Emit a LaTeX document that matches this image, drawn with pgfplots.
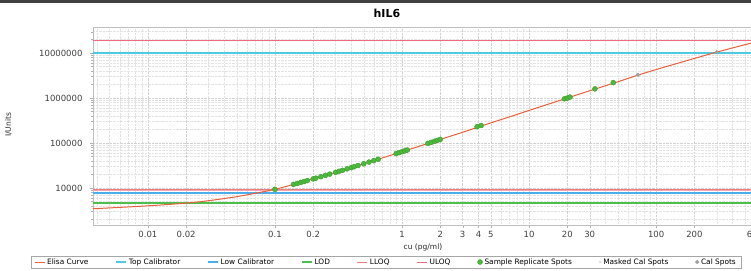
\documentclass[border=0pt]{standalone}
\usepackage{fontspec}
\setmainfont{DejaVu Sans}
\usepackage{pgfplots}
\pgfplotsset{compat=1.18}
\definecolor{curvec}{HTML}{E8603C}
\definecolor{topcal}{HTML}{4ECBE2}
\definecolor{lowcal}{HTML}{4AAEEA}
\definecolor{lodc}{HTML}{4CC04C}
\definecolor{lloqc}{HTML}{E85A5A}
\definecolor{uloqc}{HTML}{EE6A80}
\definecolor{dotc}{HTML}{4CB83C}
\pgfplotsset{
  linelegend/.style={legend image code/.code={\draw[##1] (0pt,0pt) -- (10pt,0pt);}},
  dotlegend/.style={legend image code/.code={\draw[##1] plot coordinates {(4pt,0pt)};}},
}
\begin{document}
\begin{tikzpicture}[x=1pt,y=1pt]
\path[use as bounding box] (0,0) rectangle (751,270);
\fill[black!75] (0,267) rectangle (751,270);
\begin{axis}[
  at={(93pt,45pt)}, anchor=south west,
  scale only axis, width=662pt, height=198pt,
  xmode=log, ymode=log,
  xmin=0.0037, xmax=600, ymin=1500, ymax=3.8e7,
  xtick={0.01,0.02,0.1,0.2,1,2,3,4,5,10,20,30,100,200,600},
  xticklabels={0.01,0.02,0.1,0.2,1,2,3,4,5,10,20,30,100,200,600},
  minor xtick={0.004,0.005,0.006,0.007,0.008,0.009,0.03,0.04,0.05,0.06,0.07,0.08,0.09,0.3,0.4,0.5,0.6,0.7,0.8,0.9,6,7,8,9,40,50,60,70,80,90,300,400,500},
  ytick={10000,100000,1000000,10000000},
  yticklabels={10000,100000,1000000,10000000},
  minor ytick={2000,3000,4000,5000,6000,7000,8000,9000,20000,30000,40000,50000,60000,70000,80000,90000,200000,300000,400000,500000,600000,700000,800000,900000,2000000,3000000,4000000,5000000,6000000,7000000,8000000,9000000,20000000,30000000},
  grid=both,
  major grid style={gray!35, densely dotted, line width=0.35pt},
  minor grid style={gray!22, densely dotted, line width=0.3pt},
  axis line style={gray!50, line width=0.4pt},
  tick style={gray!60},
  major tick length=3pt, minor tick length=1.5pt,
  tick align=outside,
  xtick pos=bottom, ytick pos=left,
  ticklabel style={font=\fontsize{8.5}{9}\selectfont, text=black!75},
  yticklabel style={xshift=-4pt},
  xlabel={cu (pg/ml)},
  xlabel style={at={(axis description cs:0.4985,-0.111)}, anchor=center, font=\fontsize{7.5}{8}\selectfont, text=black!85},
  ylabel={I/Units},
  ylabel style={at={(axis description cs:-0.128,0.505)}, anchor=center, font=\fontsize{7.5}{8}\selectfont, text=black!85},
  title={hIL6},
  every axis title shift=0pt,
  title style={at={(axis description cs:0.444,1.071)}, anchor=center, font=\fontsize{11}{12}\bfseries},
  legend columns=-1,
  legend style={at={(axis description cs:0.4426,-0.187)}, anchor=center,
    font=\fontsize{7.4}{8}\selectfont, draw=gray!70, line width=0.4pt,
    inner ysep=0.5pt, inner xsep=3pt,
    /tikz/every even column/.append style={column sep=25pt}},
  linelegend,
]
\addlegendimage{curvec, line width=1pt}
\addlegendentry{Elisa Curve}
\addplot[topcal, line width=1.4pt] coordinates {(0.0037,10000000) (600,10000000)};
\addlegendentry{Top Calibrator}
\addplot[lowcal, line width=1.4pt] coordinates {(0.0037,7700) (600,7700)};
\addlegendentry{Low Calibrator}
\addplot[lodc, line width=1.4pt] coordinates {(0.0037,4600) (600,4600)};
\addlegendentry{LOD}
\addplot[lloqc!80, line width=1pt] coordinates {(0.0037,9300) (600,9300)};
\addlegendentry{LLOQ}
\addplot[uloqc, line width=1pt] coordinates {(0.0037,19400000) (600,19400000)};
\addlegendentry{ULOQ}
\addplot[uloqc!60, line width=0.8pt, forget plot] coordinates {(0.0037,8600) (600,8600)};
% Elisa curve (drawn over the reference lines)
\addplot[curvec, line width=1pt, smooth, forget plot] coordinates {
(0.0037,3450) (0.005,3600) (0.01,4000) (0.02,4600) (0.03,5200) (0.05,6400)
(0.07,7600) (0.1,9300) (0.14,12000) (0.2,15900) (0.3,22200) (0.5,34500)
(0.7,46500) (1,64000) (1.5,92000) (2,120000) (3,173000) (5,280000)
(7,380000) (10,530000) (20,1000000) (30,1450000) (50,2300000)
(70,3150000) (100,4300000) (150,6000000) (200,7600000) (300,10500000)
(450,14200000) (600,17500000)};
% sample replicate spots
\addplot[only marks, mark=*, mark size=2.5pt, color=dotc, draw=dotc!85!black, dotlegend] coordinates {
(0.1,9300) (0.14,12000) (0.15,12600) (0.16,13300) (0.17,13900) (0.18,14600)
(0.2,15900) (0.21,16500) (0.23,17800) (0.25,19100) (0.27,20300) (0.3,22200)
(0.32,23500) (0.34,24700) (0.37,26600) (0.4,28400) (0.42,29700) (0.45,31500)
(0.5,34500) (0.55,37600) (0.6,40600) (0.65,43500) (0.9,58200) (0.95,61100)
(1.0,64000) (1.05,66900) (1.1,69700) (1.6,98000) (1.7,103600) (1.8,109100)
(1.9,114700) (2.0,120100) (3.9,230000) (4.2,245000) (19,960000) (20,1000000)
(21,1050000) (33,1600000) (46,2200000)};
\addlegendentry{Sample Replicate Spots}
\addlegendimage{only marks, mark=*, mark size=1.2pt, color=gray!25, dotlegend}
\addlegendentry{Masked Cal Spots}
\addplot[only marks, mark=*, mark size=1.8pt, color=gray!75, dotlegend] coordinates {
(72,3300000) (300,10500000)};
\addlegendentry{Cal Spots}
\end{axis}
\end{tikzpicture}
\end{document}
